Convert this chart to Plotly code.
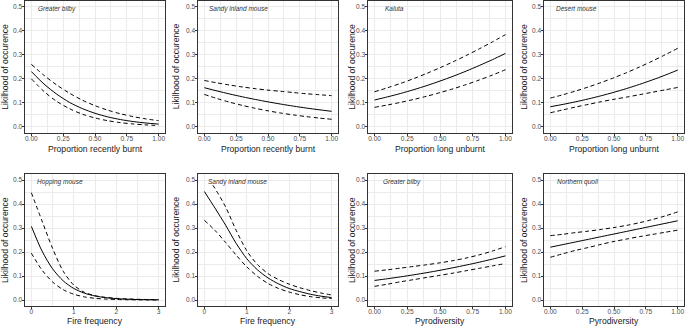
import plotly.graph_objects as go

# ---------------- data ----------------
x_prop = [0.0, 0.1, 0.2, 0.3, 0.4, 0.5, 0.6, 0.7, 0.8, 0.9, 1.0]
x_fire = [0.0, 0.25, 0.5, 0.75, 1.0, 1.25, 1.5, 1.75, 2.0, 2.25, 2.5, 2.75, 3.0]
x_fire_sim_upper = [0.2, 0.25, 0.5, 0.75, 1.0, 1.25, 1.5, 1.75, 2.0, 2.25, 2.5, 2.75, 3.0]

# Panel 1: Greater bilby vs proportion recently burnt
bilby_burnt_fit = [0.230, 0.178, 0.136, 0.102, 0.0765, 0.0568, 0.0419, 0.0308, 0.0225, 0.0165, 0.012]
bilby_burnt_up = [0.260, 0.214, 0.174, 0.140, 0.1115, 0.0884, 0.0698, 0.0549, 0.0429, 0.0335, 0.0261]
bilby_burnt_lo = [0.200, 0.147, 0.106, 0.0757, 0.0533, 0.0374, 0.0261, 0.0181, 0.0125, 0.0087, 0.006]

# Panel 2: Sandy inland mouse vs proportion recently burnt
sim_burnt_fit = [0.163, 0.1495, 0.1368, 0.1251, 0.1143, 0.1043, 0.0950, 0.0865, 0.0787, 0.0716, 0.065]
sim_burnt_up = [0.193, 0.183, 0.174, 0.166, 0.159, 0.153, 0.148, 0.143, 0.138, 0.134, 0.130]
sim_burnt_lo = [0.135, 0.118, 0.1028, 0.0893, 0.0774, 0.067, 0.0579, 0.050, 0.0431, 0.0371, 0.032]

# Panel 3: Kaluta vs proportion long unburnt
kaluta_fit = [0.112, 0.1251, 0.1393, 0.155, 0.172, 0.1906, 0.2105, 0.232, 0.2551, 0.2793, 0.3052]
kaluta_up = [0.146, 0.163, 0.181, 0.201, 0.2227, 0.2459, 0.2705, 0.2967, 0.3243, 0.3532, 0.3832]
kaluta_lo = [0.0815, 0.0914, 0.1023, 0.1144, 0.1279, 0.1426, 0.1585, 0.176, 0.1951, 0.2155, 0.2376]

# Panel 4: Desert mouse vs proportion long unburnt
desert_fit = [0.084, 0.0938, 0.1047, 0.1166, 0.1297, 0.1441, 0.1598, 0.1767, 0.1951, 0.2148, 0.2361]
desert_up = [0.120, 0.134, 0.1495, 0.1663, 0.1847, 0.2044, 0.2258, 0.2488, 0.2733, 0.2992, 0.3263]
desert_lo = [0.059, 0.071, 0.083, 0.094, 0.105, 0.115, 0.124, 0.134, 0.144, 0.154, 0.164]

# Panel 5: Hopping mouse vs fire frequency
hop_fit = [0.3068, 0.2046, 0.130, 0.080, 0.0481, 0.0285, 0.0168, 0.0098, 0.0057, 0.0033, 0.0019, 0.0011, 0.00066]
hop_up = [0.447, 0.330, 0.215, 0.120, 0.062, 0.032, 0.018, 0.011, 0.007, 0.0045, 0.003, 0.002, 0.0013]
hop_lo = [0.195, 0.125, 0.075, 0.043, 0.024, 0.013, 0.007, 0.004, 0.0022, 0.0012, 0.0007, 0.0004, 0.0002]

# Panel 6: Sandy inland mouse vs fire frequency
simf_fit = [0.452, 0.383, 0.312, 0.236, 0.172, 0.126, 0.092, 0.067, 0.048, 0.035, 0.024, 0.016, 0.010]
simf_up = [0.478, 0.465, 0.388, 0.290, 0.205, 0.148, 0.110, 0.085, 0.066, 0.051, 0.039, 0.029, 0.021]
simf_lo = [0.332, 0.290, 0.240, 0.187, 0.138, 0.099, 0.069, 0.048, 0.033, 0.022, 0.014, 0.009, 0.006]

# Panel 7: Greater bilby vs pyrodiversity
bilby_pyro_fit = [0.0815, 0.0887, 0.0966, 0.105, 0.114, 0.1238, 0.1344, 0.1456, 0.1575, 0.1703, 0.1838]
bilby_pyro_up = [0.120, 0.126, 0.133, 0.140, 0.147, 0.155, 0.164, 0.175, 0.188, 0.204, 0.222]
bilby_pyro_lo = [0.057, 0.066, 0.076, 0.085, 0.094, 0.103, 0.112, 0.122, 0.132, 0.142, 0.152]

# Panel 8: Northern quoll vs pyrodiversity
quoll_fit = [0.220, 0.231, 0.242, 0.253, 0.264, 0.275, 0.286, 0.297, 0.308, 0.319, 0.330]
quoll_up = [0.268, 0.274, 0.281, 0.287, 0.294, 0.302, 0.311, 0.322, 0.335, 0.350, 0.367]
quoll_lo = [0.178, 0.193, 0.207, 0.219, 0.232, 0.244, 0.254, 0.264, 0.273, 0.282, 0.291]

species = ["Greater bilby", "Sandy inland mouse", "Kaluta", "Desert mouse",
           "Hopping mouse", "Sandy inland mouse", "Greater bilby", "Northern quoll"]
xtitles = ["Proportion recently burnt", "Proportion recently burnt", "Proportion long unburnt",
           "Proportion long unburnt", "Fire frequency", "Fire frequency", "Pyrodiversity", "Pyrodiversity"]
ytitle = "Likilhood of occurence"

panels = [
    (x_prop, bilby_burnt_fit, x_prop, bilby_burnt_up, bilby_burnt_lo, "prop"),
    (x_prop, sim_burnt_fit, x_prop, sim_burnt_up, sim_burnt_lo, "prop"),
    (x_prop, kaluta_fit, x_prop, kaluta_up, kaluta_lo, "prop"),
    (x_prop, desert_fit, x_prop, desert_up, desert_lo, "prop"),
    (x_fire, hop_fit, x_fire, hop_up, hop_lo, "fire"),
    (x_fire, simf_fit, x_fire_sim_upper, simf_up, simf_lo, "fire"),
    (x_prop, bilby_pyro_fit, x_prop, bilby_pyro_up, bilby_pyro_lo, "prop"),
    (x_prop, quoll_fit, x_prop, quoll_up, quoll_lo, "prop"),
]

# ---------------- layout geometry (pixels) ----------------
W, H = 685, 328
cols_px = [(25, 165), (198, 338), (368, 512), (544, 684)]
rows_px = [(0.5, 133), (174, 306)]
ytitle_x_px = [5, 175.5, 352, 524]
xtitle_y_px = [149, 321]
label_pos = [(0.036, 0.49), (0.02, 0.49), (0.065, 0.49), (0.03, 0.49),
             (0.094, 0.49), (0.04, 0.49), (0.05, 0.49), (0.034, 0.49)]

fig = go.Figure()
layout = dict(width=W, height=H, margin=dict(l=0, r=0, t=0, b=0),
              paper_bgcolor="white", plot_bgcolor="white", showlegend=False,
              font=dict(family="Liberation Sans, Arial, sans-serif"))
annotations = []

grid_c = "#ebebeb"
for i, (xf, fit, xu, up, lo, kind) in enumerate(panels):
    r, c = divmod(i, 4)
    n = "" if i == 0 else str(i + 1)
    xa, ya = "x" + n, "y" + n
    line_solid = dict(color="black", width=1.0, shape="spline", smoothing=0.8)
    line_dash = dict(color="black", width=1.0, dash="4px,3px", shape="spline", smoothing=0.8)
    fig.add_trace(go.Scatter(x=xu, y=up, mode="lines", line=line_dash, xaxis=xa, yaxis=ya, hoverinfo="skip"))
    fig.add_trace(go.Scatter(x=xf, y=lo, mode="lines", line=line_dash, xaxis=xa, yaxis=ya, hoverinfo="skip"))
    fig.add_trace(go.Scatter(x=xf, y=fit, mode="lines", line=line_solid, xaxis=xa, yaxis=ya, hoverinfo="skip"))

    x0, x1 = cols_px[c]
    t0, t1 = rows_px[r]
    if kind == "prop":
        xr, xticks, xtxt, mdt, mt0 = [-0.05, 1.05], [0, 0.25, 0.5, 0.75, 1.0], ["0.00", "0.25", "0.50", "0.75", "1.00"], 0.125, 0.125
    else:
        xr, xticks, xtxt, mdt, mt0 = [-0.15, 3.15], [0, 1, 2, 3], ["0", "1", "2", "3"], 0.5, 0.5
    common = dict(showline=True, linecolor="#333333", linewidth=0.8, mirror=True,
                  ticks="outside", ticklen=2.5, tickwidth=0.6, tickcolor="#333333",
                  showgrid=True, gridcolor=grid_c, gridwidth=0.9, zeroline=False,
                  tickfont=dict(size=6.6, color="#4d4d4d"), fixedrange=True)
    layout["xaxis" + n] = dict(domain=[x0 / W, x1 / W], range=xr, anchor=ya,
                               tickvals=xticks, ticktext=xtxt, ticklabelstandoff=-3,
                               minor=dict(tick0=mt0, dtick=mdt * 2, showgrid=True, gridcolor=grid_c, gridwidth=0.5, ticks=""),
                               **common)
    layout["yaxis" + n] = dict(domain=[1 - t1 / H, 1 - t0 / H], range=[-0.025, 0.525], anchor=xa,
                               tickvals=[0, 0.1, 0.2, 0.3, 0.4, 0.5], ticklabelstandoff=-2,
                               ticktext=["0.0", "0.1", "0.2", "0.3", "0.4", "0.5"],
                               minor=dict(tick0=0.05, dtick=0.1, showgrid=True, gridcolor=grid_c, gridwidth=0.5, ticks=""),
                               **common)
    # species label
    lx, ly = label_pos[i]
    annotations.append(dict(x=lx, y=ly, xref=xa, yref=ya, text="<i>" + species[i] + "</i>",
                            showarrow=False, xanchor="left", yanchor="middle",
                            font=dict(size=6.5, color="#333333")))
    # x title
    annotations.append(dict(x=(x0 + x1) / 2 / W, y=1 - xtitle_y_px[r] / H, xref="paper", yref="paper",
                            text=xtitles[i], showarrow=False, xanchor="center", yanchor="middle",
                            font=dict(size=8.6, color="#1a1a1a")))
    # y title
    annotations.append(dict(x=ytitle_x_px[c] / W, y=1 - (t0 + t1) / 2 / H, xref="paper", yref="paper",
                            text=ytitle, showarrow=False, xanchor="center", yanchor="middle", textangle=-90,
                            font=dict(size=8.6, color="#1a1a1a")))

layout["annotations"] = annotations
fig.update_layout(**layout)
fig.write_html("out.html", config={"displayModeBar": False},
               post_script="document.body.style.margin='0';document.body.style.overflow='hidden';")
